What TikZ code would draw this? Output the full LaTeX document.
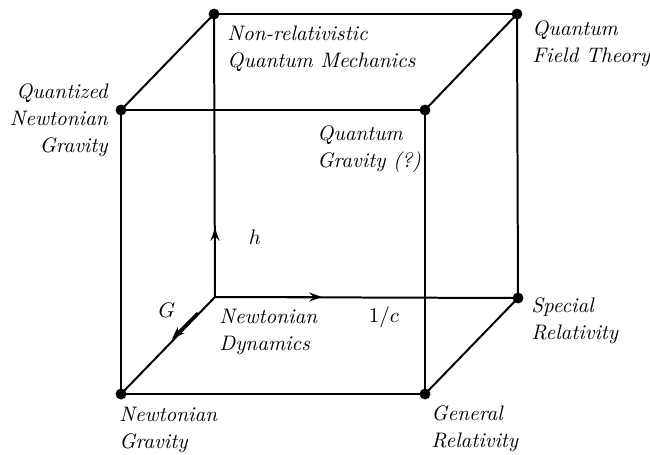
\documentclass[tikz,border=0pt]{standalone}
\usetikzlibrary{arrows.meta}
\begin{document}
\begin{tikzpicture}[x=0.4762pt,y=-0.4762pt,
  edge/.style={line width=0.95pt},
  vec/.style={line width=1.4pt,-{Stealth[length=6pt,width=4.2pt]}},
  vtx/.style={circle,fill=black,inner sep=0pt,minimum size=5.2pt},
  lbl/.style={font=\fontsize{10}{12.9}\selectfont\itshape,inner sep=0pt,align=left}]
\useasboundingbox (0,0) rectangle (650,454);
% back face
\coordinate (ND) at (215,297);
\node[vtx] (QM)  at (214,14) {};
\node[vtx] (QFT) at (517,14) {};
\node[vtx] (SR)  at (518,298) {};
% front face
\node[vtx] (QNG) at (121,110) {};
\node[vtx] (QG)  at (425,110) {};
\node[vtx] (NG)  at (121,394) {};
\node[vtx] (GR)  at (425,394) {};
% edges
\draw[edge] (ND) -- (QM.center);
\draw[edge] (ND) -- (SR.center);
\draw[edge] (ND) -- (NG.center);
\draw[edge] (QM.center) -- (QFT.center);
\draw[edge] (QFT.center) -- (SR.center);
\draw[edge] (QM.center) -- (QNG.center);
\draw[edge] (QFT.center) -- (QG.center);
\draw[edge] (SR.center) -- (GR.center);
\draw[edge] (QNG.center) -- (QG.center);
\draw[edge] (QG.center) -- (GR.center);
\draw[edge] (GR.center) -- (NG.center);
\draw[edge] (NG.center) -- (QNG.center);
% direction vectors
\coordinate (h0) at (215,290); \coordinate (h1) at (215,228);
\coordinate (c0) at (278,297); \coordinate (c1) at (322,297);
\coordinate (g0) at (198,313); \coordinate (g1) at (172,339);
\draw[vec] (h0) -- (h1);
\draw[vec] (c0) -- (c1);
\draw[vec] (g0) -- (g1);
% labels
\node[lbl] (lh) at (255,237) {$h$};
\node[lbl] (lc) at (384,317) {$1/c$};
\node[lbl] (lG) at (167,310) {$G$};
\node[lbl,anchor=north west] (tQM) at (227,25) {Non-relativistic\\Quantum Mechanics};
\node[lbl,anchor=north west] (tQFT) at (532,20) {Quantum\\Field Theory};
\node[lbl,anchor=north east,align=right] (tQNG) at (108,83) {Quantized\\Newtonian\\Gravity};
\node[lbl,anchor=north west] (tQG) at (317,125) {Quantum\\Gravity (?)};
\node[lbl,anchor=north west] (tND) at (219,309) {Newtonian\\Dynamics};
\node[lbl,anchor=north west] (tSR) at (531,297) {Special\\Relativity};
\node[lbl,anchor=north west] (tGR) at (431,405) {General\\Relativity};
\node[lbl,anchor=north west] (tNG) at (119,407) {Newtonian\\Gravity};
\end{tikzpicture}
\end{document}
